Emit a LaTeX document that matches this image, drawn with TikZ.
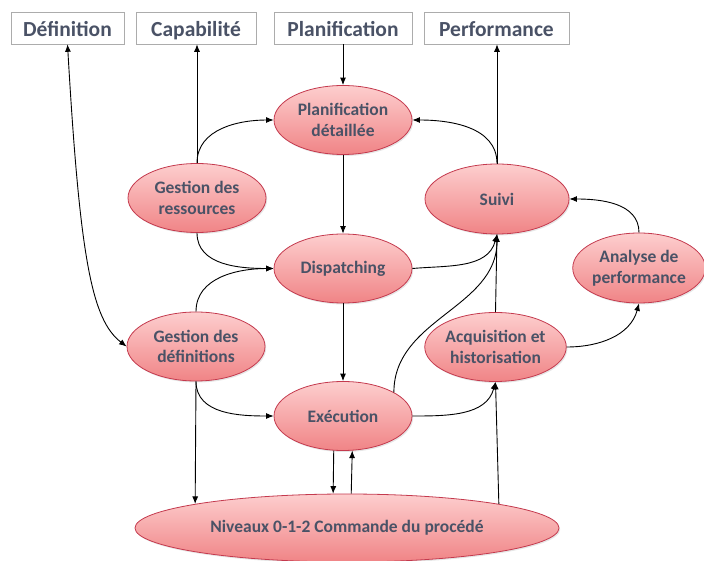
\documentclass[tikz,border=0pt]{standalone}
\usepackage{fontspec}
\setmainfont{Carlito}
\usepackage{tikz}
\usetikzlibrary{arrows.meta}
\usetikzlibrary{shapes.geometric}
\usetikzlibrary{shadows}
\definecolor{mred}{RGB}{196, 58, 78}
\definecolor{mpinkl}{RGB}{253, 206, 206}
\definecolor{mpinkd}{RGB}{240, 132, 134}
\definecolor{mtext}{RGB}{74, 82, 102}
\definecolor{mgray}{RGB}{172, 172, 172}
\tikzset{proc/.style = {ellipse, draw = mred, line width = 0.8pt,
                        top color = mpinkl, bottom color = mpinkd,
                        drop shadow = {shadow xshift = 1.2pt, shadow yshift = -1.5pt,
                                       opacity = 0.2},
                        minimum width = 138pt, minimum height = 69pt, inner sep = 0,
                        align = center, text = mtext,
                        font = \fontsize{17.5}{20.5}\selectfont\bfseries}}
\tikzset{levelbox/.style = {draw = mgray, fill = white, line width = 0.6pt,
                            minimum height = 32pt, inner sep = 0, text = mtext,
                            text height = 18pt, text depth = 1pt,
                            font = \fontsize{21.5}{22}\selectfont\bfseries}}
\tikzset{link/.style = {line width = 0.9pt, -{Latex[length = 7.5pt, width = 6pt]}}}
\tikzset{twolink/.style = {line width = 0.9pt,
                           {Latex[length = 7.5pt, width = 6pt]}-{Latex[length = 7.5pt, width = 6pt]}}}

\begin{document}
\begin{tikzpicture}[x = 1pt, y = 1pt]
    \useasboundingbox (0, 0) rectangle (704, 560);

    % niveaux du haut
    \node [levelbox, minimum width = 113pt] (def) at (67.5, 532) {Définition};
    \node [levelbox, minimum width = 120pt] (cap) at (196, 532) {Capabilité};
    \node [levelbox, minimum width = 138pt] (plan) at (343, 532) {Planification};
    \node [levelbox, minimum width = 145pt] (perf) at (496.5, 532) {Performance};

    % fonctions
    \node [proc] (pdet) at (343, 440) {Planification\\détaillée};
    \node [proc] (gres) at (197, 362) {Gestion des\\ressources};
    \node [proc, minimum width = 144pt, minimum height = 70pt] (suivi) at (497, 361) {Suivi};
    \node [proc] (disp) at (343, 291.5) {Dispatching};
    \node [proc, minimum width = 132pt, minimum height = 70pt] (anal) at (639, 292) {Analyse de\\performance};
    \node [proc] (gdef) at (196, 213.5) {Gestion des\\définitions};
    \node [proc, minimum width = 140pt] (acq) at (495.5, 213) {Acquisition et\\historisation};
    \node [proc] (exec) at (343, 144) {Exécution};
    \node [proc, minimum width = 424pt, minimum height = 68pt] (niv) at (347, 32) {Niveaux 0-1-2 Commande du procédé};

    % liens
    \draw [twolink] (def.south) .. controls (80, 300) and (92, 240) .. (gdef.west);
    \draw [link] (gres.north) -- (gres.north |- cap.south);
    \draw [link] (gres.north) to [out = 90, in = 180] (pdet.west);
    \draw [link] (plan.south) -- (pdet.north);
    \draw [link] (pdet.south) -- (disp.north);
    \draw [link] (gres.south) to [out = -90, in = 180] (disp.west);
    \draw [link] (gdef.north) to [out = 90, in = 180] (disp.west);
    \draw [link] (disp.east) to [out = 5, in = -105] (suivi.south);
    \draw [link] (suivi.north) to [out = 90, in = 0] (pdet.east);
    \draw [link] (suivi.north) -- (suivi.north |- perf.south);
    \draw [link] (anal.north) to [out = 90, in = 0] (suivi.east);
    \draw [line width = 0.9pt] (acq.north) -- (suivi.south);
    \draw [link] (exec.25) to [out = 90, in = -90] (suivi.south);
    \draw [link] (acq.east) to [out = 0, in = -105] (anal.south);
    \draw [link] (disp.south) -- (exec.north);
    \draw [link] (gdef.south) to [out = -90, in = 180] (exec.west);
    \draw [link] (exec.east) to [out = 0, in = -105] (acq.south);
    \draw [link] (gdef.south) -- (niv.171);
    \draw [link] (exec.255) -- (niv.112);
    \draw [link] (niv.83) -- (exec.285);
    \draw [link] (niv.9) -- (acq.south);
\end{tikzpicture}
\end{document}
